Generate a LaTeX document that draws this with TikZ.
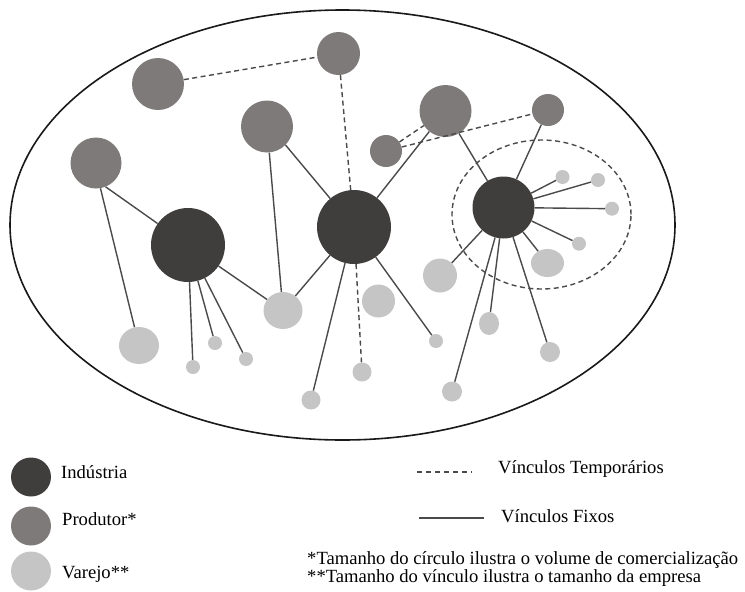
\documentclass[tikz,border=0pt]{standalone}
\usepackage{fontspec}
\setmainfont{Liberation Serif}
\usetikzlibrary{shapes.geometric}
\definecolor{indc}{HTML}{403E3D}
\definecolor{prodc}{HTML}{7E7A79}
\definecolor{varc}{HTML}{C5C5C5}
\definecolor{edgec}{HTML}{4A4A4A}
\begin{document}
\begin{tikzpicture}[x=1pt,y=-1pt,
  indnode/.style={circle,fill=indc,inner sep=0pt,minimum size=#1},
  prodnode/.style={circle,fill=prodc,inner sep=0pt,minimum size=#1},
  varnode/.style={circle,fill=varc,inner sep=0pt,minimum size=#1},
  varell/.style={ellipse,fill=varc,inner sep=0pt},
  legcirc/.style={ellipse,inner sep=0pt,minimum width=40pt,minimum height=39pt},
  fixo/.style={draw=edgec,line width=1.4pt},
  temp/.style={draw=edgec,line width=1.4pt,dash pattern=on 5pt off 3.5pt},
  lbl/.style={inner sep=0pt,anchor=base west,font=\fontsize{18.6}{18.6}\selectfont}
]
\useasboundingbox (0,0) rectangle (745,592);
% outer ellipse
\draw[line width=1.6pt,black!90] (342.5,225) ellipse [x radius=332.5pt, y radius=215pt];
% dashed cluster ellipse
\draw[temp] (541.5,214.5) ellipse [x radius=89.5pt, y radius=74.5pt];

% industries
\node[indnode=74pt] (I1) at (188,245) {};
\node[indnode=74pt] (I2) at (354,227) {};
\node[indnode=62pt] (I3) at (503.5,207.5) {};
% producers
\node[prodnode=52pt] (P1) at (158,84) {};
\node[prodnode=43pt] (P2) at (338.5,53.5) {};
\node[prodnode=52pt] (P3) at (267,126.5) {};
\node[prodnode=51pt] (P4) at (96,163) {};
\node[prodnode=32pt] (P5) at (386,151) {};
\node[prodnode=52pt] (P6) at (445.5,111) {};
\node[prodnode=32pt] (P7) at (548,110) {};
% retail
\node[varell,minimum width=40pt,minimum height=37pt] (Ra) at (139,345.5) {};
\node[varnode=14pt] (Rb) at (193,367) {};
\node[varnode=14pt] (Rc) at (215,343) {};
\node[varnode=14pt] (Rd) at (246,359) {};
\node[varell,minimum width=39pt,minimum height=37pt] (Re) at (283,310.5) {};
\node[varnode=19pt] (Rf) at (311,400) {};
\node[varnode=19pt] (Rg) at (362,372) {};
\node[varnode=33pt] (Rh) at (378.5,301) {};
\node[varnode=34pt] (Ri) at (440,275.5) {};
\node[varnode=14pt] (Rj) at (436,341) {};
\node[varell,minimum width=20pt,minimum height=23pt] (Rk) at (489,323.5) {};
\node[varnode=20pt] (Rl) at (550,352) {};
\node[varnode=20pt] (Rm) at (452,391.5) {};
\node[varell,minimum width=33pt,minimum height=28pt] (Rn) at (547.5,263) {};
\node[varnode=14pt] (Ro) at (562.5,177) {};
\node[varnode=14pt] (Rp) at (598,180) {};
\node[varnode=14pt] (Rq) at (612,208.7) {};
\node[varnode=14pt] (Rr) at (579,243.7) {};

% temporary links
\draw[temp] (P1) -- (P2);
\draw[temp] (P2) -- (I2);
\draw[temp] (P5) -- (P6);
\draw[temp] (P5) -- (P7);
\draw[temp] (I2) -- (Rg);

% fixed links
\draw[fixo] (P4.-80) -- (Ra);
\draw[fixo] (P4.-68) -- (I1);
\draw[fixo] (P3.-85) -- (Re);
\draw[fixo] (P3.-45) -- (I2);
\draw[fixo] (I1) -- (Re);
\draw[fixo] (I1) -- (Rb);
\draw[fixo] (I1) -- (Rc);
\draw[fixo] (I1) -- (Rd);
\draw[fixo] (I2) -- (Re);
\draw[fixo] (I2) -- (Rf);
\draw[fixo] (I2) -- (Rj);
\draw[fixo] (I2) -- (P6);
\draw[fixo] (P6) -- (I3);
\draw[fixo] (P7) -- (I3);
\draw[fixo] (I3) -- (Ro);
\draw[fixo] (I3) -- (Rp);
\draw[fixo] (I3) -- (Rq);
\draw[fixo] (I3) -- (Rr);
\draw[fixo] (I3) -- (Rn);
\draw[fixo] (I3) -- (Ri);
\draw[fixo] (I3) -- (Rm);
\draw[fixo] (I3) -- (Rk);
\draw[fixo] (I3) -- (Rl);

% legend
\node[legcirc,fill=indc] (LI) at (31,477) {};
\node[legcirc,fill=prodc] (LP) at (31,526) {};
\node[legcirc,fill=varc] (LV) at (31,571) {};
\node[lbl] (TI) at (61,478) {Indústria};
\node[lbl] (TP) at (62,525) {Produtor*};
\node[lbl] (TV) at (62,578) {Varejo**};

\coordinate (LT1) at (417,472);
\coordinate (LT2) at (472,472);
\coordinate (LF1) at (419,518);
\coordinate (LF2) at (484,518);
\draw[draw=edgec,line width=1.2pt,dash pattern=on 5pt off 4pt] (LT1) -- (LT2);
\draw[draw=edgec,line width=1.4pt] (LF1) -- (LF2);
\node[lbl] (TT) at (498,473) {Vínculos Temporários};
\node[lbl] (TF) at (501,522) {Vínculos Fixos};
\node[lbl] (N1) at (307,564) {*Tamanho do círculo ilustra o volume de comercialização};
\node[lbl] (N2) at (307,582) {**Tamanho do vínculo ilustra o tamanho da empresa};
\end{tikzpicture}
\end{document}
